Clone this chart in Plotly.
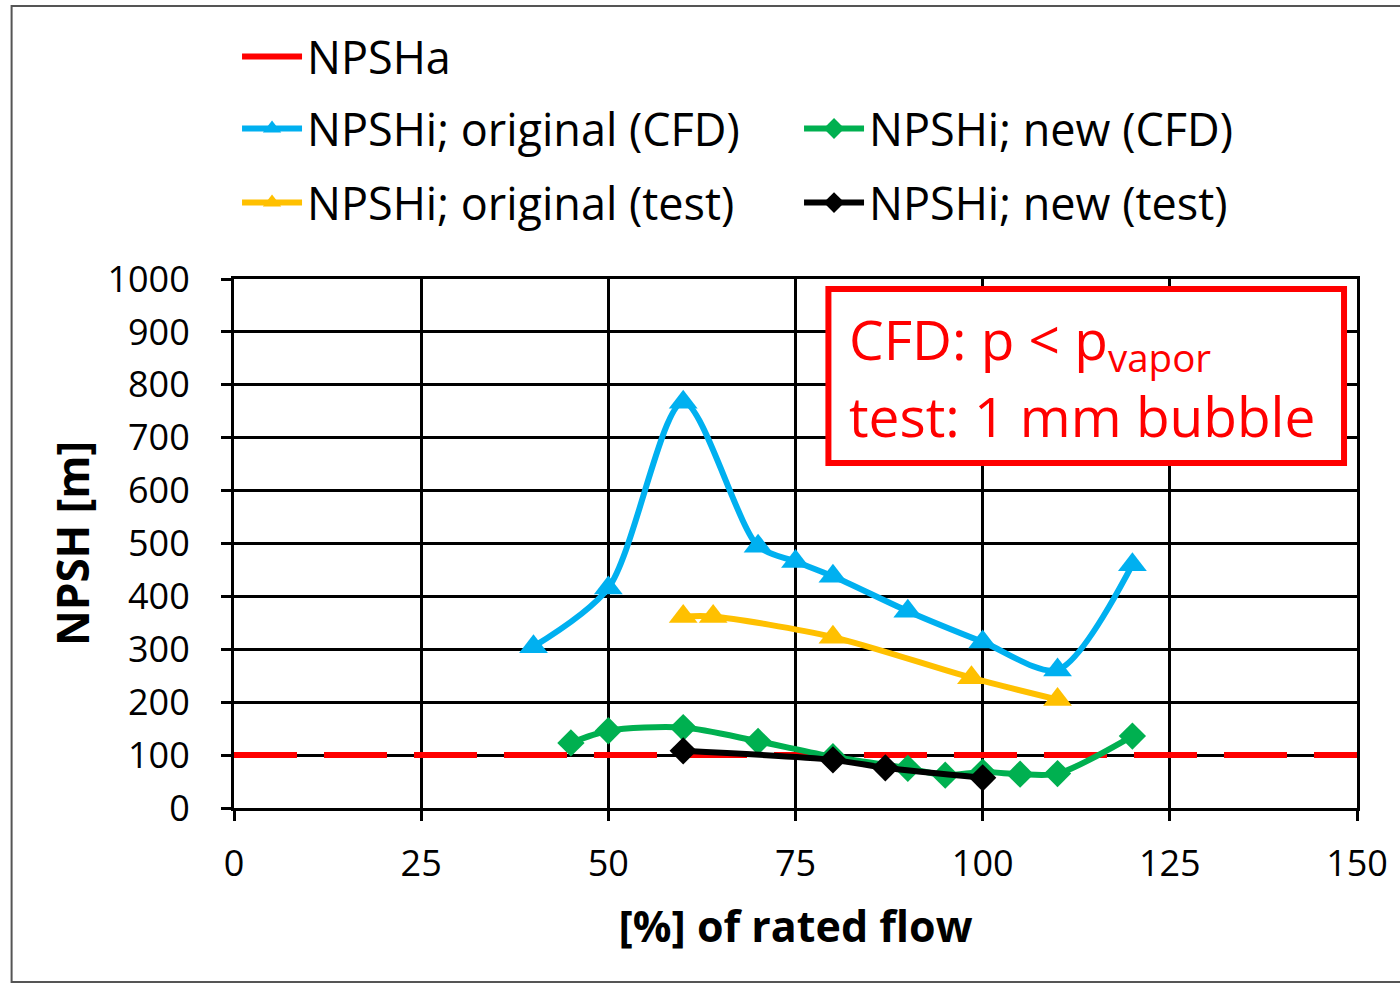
import plotly.graph_objects as go

# ---------------- data ----------------
npsha_x = [0, 150]
npsha_y = [100, 100]

orig_cfd_x = [40, 50, 60, 70, 75, 80, 90, 100, 110, 120]
orig_cfd_y = [305, 416, 767, 495, 466, 438, 372, 314, 261, 460]

new_cfd_x = [45, 50, 60, 70, 80, 90, 95, 100, 105, 110, 120]
new_cfd_y = [123, 146, 152, 126, 97, 75, 62, 68, 64, 65, 136]

orig_test_x = [60, 64, 80, 98.5, 110]
orig_test_y = [362, 362, 323, 246, 205]

new_test_x = [60, 80, 87, 100]
new_test_y = [108, 91, 76, 57]

x_ticks = [0, 25, 50, 75, 100, 125, 150]
y_ticks = [0, 100, 200, 300, 400, 500, 600, 700, 800, 900, 1000]

FONT = "Open Sans"
BLUE = "#00B0F0"
GREEN = "#00B050"
YELLOW = "#FFC000"
RED = "#FF0000"

fig = go.Figure()

fig.add_trace(go.Scatter(
    x=npsha_x, y=npsha_y, mode="lines", name="NPSHa",
    line=dict(color=RED, width=6, dash="63px,27px"),
    legend="legend",
))
fig.add_trace(go.Scatter(
    x=orig_cfd_x, y=orig_cfd_y, mode="lines+markers", name="NPSHi; original (CFD)",
    line=dict(color=BLUE, width=6, shape="spline", smoothing=0.8),
    marker=dict(symbol="triangle-up", size=25, color=BLUE),
    legend="legend2",
))
fig.add_trace(go.Scatter(
    x=orig_test_x, y=orig_test_y, mode="lines+markers", name="NPSHi; original (test)",
    line=dict(color=YELLOW, width=6, shape="spline", smoothing=0.8),
    marker=dict(symbol="triangle-up", size=25, color=YELLOW),
    legend="legend3",
))
fig.add_trace(go.Scatter(
    x=new_cfd_x, y=new_cfd_y, mode="lines+markers", name="NPSHi; new (CFD)",
    line=dict(color=GREEN, width=6, shape="spline", smoothing=0.8),
    marker=dict(symbol="diamond", size=21, color=GREEN),
    legend="legend2",
))
fig.add_trace(go.Scatter(
    x=new_test_x, y=new_test_y, mode="lines+markers", name="NPSHi; new (test)",
    line=dict(color="black", width=6, shape="spline", smoothing=0.8),
    marker=dict(symbol="diamond", size=21, color="black"),
    legend="legend3",
))

legend_common = dict(
    font=dict(family=FONT, size=45, color="black"),
    bgcolor="rgba(0,0,0,0)",
    orientation="h",
    xanchor="left", yanchor="middle",
    itemwidth=60,
    entrywidth=487, entrywidthmode="pixels",
    traceorder="normal",
    tracegroupgap=0,
)

fig.update_layout(
    width=1400, height=984,
    margin=dict(l=234, r=40, t=279, b=176),
    paper_bgcolor="white", plot_bgcolor="white",
    font=dict(family=FONT, color="black"),
    legend=dict(x=0.0027, y=1.42, **legend_common),
    legend2=dict(x=0.0027, y=1.284, **legend_common),
    legend3=dict(x=0.0027, y=1.144, **legend_common),
    xaxis=dict(
        range=[0, 150], tickvals=x_ticks, ticktext=[str(v) for v in x_ticks],
        showgrid=True, gridcolor="black", gridwidth=3,
        showline=True, linecolor="black", linewidth=3, mirror=True,
        ticks="outside", ticklen=10, tickwidth=3, tickcolor="black",
        tickfont=dict(family=FONT, size=36, color="black"),
        ticklabelstandoff=12,
        zeroline=False,
        title=dict(text="<b>[%] of rated flow</b>", font=dict(family=FONT, size=43, color="black"), standoff=26),
    ),
    yaxis=dict(
        range=[0, 1000], tickvals=y_ticks, ticktext=[str(v) for v in y_ticks],
        showgrid=True, gridcolor="black", gridwidth=3,
        showline=True, linecolor="black", linewidth=3, mirror=True,
        ticks="outside", ticklen=10, tickwidth=3, tickcolor="black",
        tickfont=dict(family=FONT, size=36, color="black"),
        ticklabelstandoff=24,
        zeroline=False,
        title=dict(text="<b>NPSH [m]</b>", font=dict(family=FONT, size=44, color="black"), standoff=5),
    ),
    showlegend=True,
)

# outer chart frame (right side runs past the image edge, as in the reference)
fig.add_shape(type="rect", xref="paper", yref="paper",
              x0=(11 - 234) / 1126, x1=(1420 - 234) / 1126,
              y0=(808 - 982) / 529, y1=(808 - 6) / 529,
              line=dict(color="#555555", width=2), fillcolor="rgba(0,0,0,0)", layer="below")

# annotation box
fig.add_shape(type="rect", xref="paper", yref="paper",
              x0=(830 - 234) / 1126, x1=(1347 - 234) / 1126,
              y0=(808 - 463) / 529, y1=(808 - 289) / 529,
              line=dict(color=RED, width=6), fillcolor="white", layer="above")
fig.add_annotation(xref="paper", yref="paper",
                   x=(849 - 234) / 1126, y=(808 - 342) / 529,
                   xanchor="left", yanchor="middle", showarrow=False,
                   text="CFD: p &lt; p<sub>vapor</sub>",
                   font=dict(family=FONT, size=55, color=RED))
fig.add_annotation(xref="paper", yref="paper",
                   x=(849 - 234) / 1126, y=(808 - 415) / 529,
                   xanchor="left", yanchor="middle", showarrow=False,
                   text="test: 1 mm bubble",
                   font=dict(family=FONT, size=55, color=RED))

fig.write_html("out.html", config={"displayModeBar": False},
               post_script="document.body.style.margin='0';")
